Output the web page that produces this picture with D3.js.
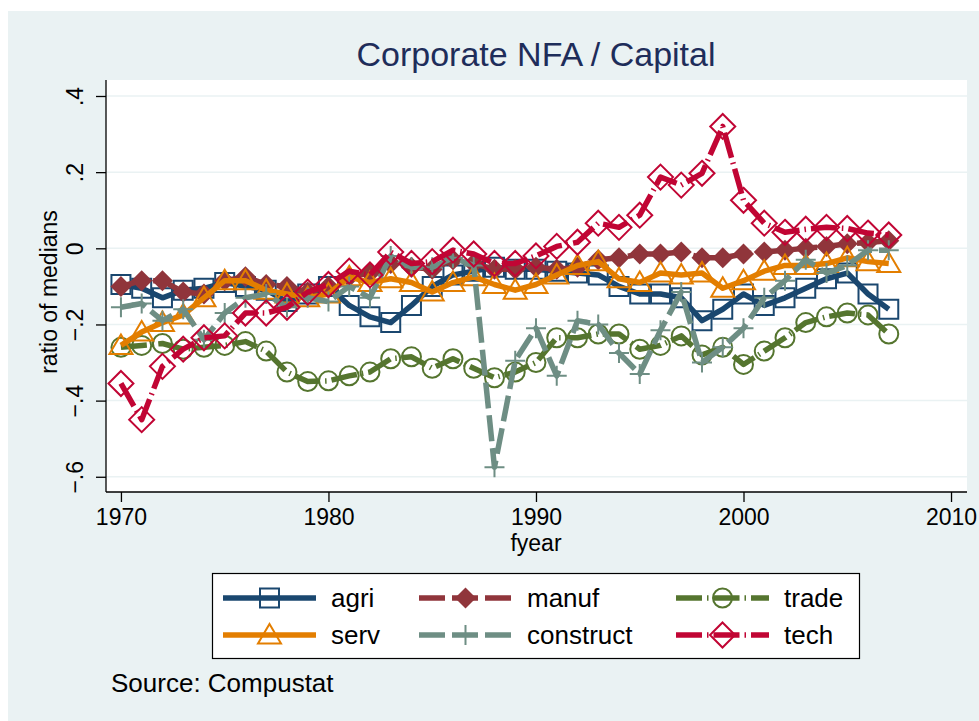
<!DOCTYPE html>
<html>
<head>
<meta charset="utf-8">
<script src="https://cdn.jsdelivr.net/npm/d3@7"></script>
<style>
  body { margin: 0; background: #ffffff; }
  svg { display: block; font-family: "Liberation Sans", Arial, sans-serif; }
</style>
</head>
<body>
<div id="chart"></div>
<script>
/* data */
const years = d3.range(1970, 2008);

const agri = [-0.095, -0.105, -0.13, -0.11, -0.105, -0.09, -0.1, -0.11, -0.14, -0.12,
  -0.10, -0.15, -0.18, -0.195, -0.15, -0.10, -0.07, -0.06, -0.05, -0.055,
  -0.055, -0.06, -0.065, -0.07, -0.10, -0.12, -0.12, -0.13, -0.19, -0.16,
  -0.12, -0.15, -0.13, -0.105, -0.08, -0.065, -0.12, -0.16];

const manuf = [-0.10, -0.085, -0.085, -0.115, -0.12, -0.085, -0.075, -0.095, -0.10, -0.115,
  -0.10, -0.075, -0.065, -0.04, -0.05, -0.055, -0.03, -0.04, -0.055, -0.055,
  -0.05, -0.055, -0.05, -0.03, -0.025, -0.015, -0.015, -0.01, -0.025, -0.025,
  -0.015, -0.01, -0.005, 0, 0.005, 0.012, 0.015, 0.02];

const serv = [-0.255, -0.22, -0.195, -0.175, -0.13, -0.085, -0.085, -0.11, -0.12, -0.13,
  -0.12, -0.075, -0.09, -0.08, -0.09, -0.115, -0.09, -0.075, -0.095, -0.11,
  -0.095, -0.07, -0.045, -0.035, -0.08, -0.09, -0.065, -0.07, -0.065, -0.105,
  -0.085, -0.06, -0.045, -0.045, -0.04, -0.025, -0.035, -0.04];

const construct = [-0.155, -0.145, -0.19, -0.16, -0.24, -0.17, -0.13, -0.12, -0.155, -0.13,
  -0.14, -0.10, -0.13, -0.02, -0.05, -0.05, -0.025, -0.045, -0.575, -0.295,
  -0.21, -0.335, -0.19, -0.2, -0.275, -0.33, -0.215, -0.115, -0.3, -0.26,
  -0.21, -0.13, -0.085, -0.03, -0.065, -0.045, -0.005, -0.005];

const trade = [-0.26, -0.255, -0.25, -0.265, -0.26, -0.255, -0.245, -0.27, -0.325, -0.35,
  -0.348, -0.335, -0.325, -0.29, -0.285, -0.315, -0.29, -0.315, -0.34, -0.325,
  -0.3, -0.235, -0.235, -0.225, -0.225, -0.265, -0.255, -0.23, -0.28, -0.26,
  -0.305, -0.27, -0.235, -0.195, -0.18, -0.17, -0.175, -0.225];

const tech = [-0.355, -0.45, -0.31, -0.265, -0.235, -0.23, -0.17, -0.17, -0.155, -0.115,
  -0.095, -0.06, -0.07, -0.01, -0.04, -0.035, -0.005, -0.015, -0.04, -0.04,
  -0.02, 0.005, 0.016, 0.066, 0.055, 0.087, 0.187, 0.166, 0.197, 0.32,
  0.126, 0.066, 0.042, 0.05, 0.055, 0.052, 0.04, 0.035];

const xTicks = [1970, 1980, 1990, 2000, 2010];
const yTicks = [-0.6, -0.4, -0.2, 0, 0.2, 0.4];

/* series in Stata plot order; legend is filled row-wise in 3 columns */
const series = [
  {name: 'agri', values: agri, color: '#1a476f', dash: null, marker: 'square'},
  {name: 'manuf', values: manuf, color: '#90353b', dash: '26,7', marker: 'diamondFill'},
  {name: 'trade', values: trade, color: '#55752f', dash: '26,5,1.5,5', marker: 'circle'},
  {name: 'serv', values: serv, color: '#e37e00', dash: null, marker: 'triangle'},
  {name: 'construct', values: construct, color: '#6e8e84', dash: '26,7', marker: 'plus'},
  {name: 'tech', values: tech, color: '#c10534', dash: '26,5,1.5,5', marker: 'diamond'}
];

const W = 979, H = 721;
const plot = {left: 106, right: 967, top: 80, bottom: 492};
const bg = '#eaf2f3';

const svg = d3.select('#chart').append('svg')
  .attr('width', W).attr('height', H);

svg.append('rect').attr('width', W).attr('height', H).attr('fill', '#ffffff');
svg.append('rect').attr('x', 8).attr('y', 11).attr('width', W - 8).attr('height', H - 11).attr('fill', bg);
svg.append('rect')
  .attr('x', plot.left).attr('y', plot.top)
  .attr('width', plot.right - plot.left).attr('height', plot.bottom - plot.top)
  .attr('fill', '#ffffff');

const x = d3.scaleLinear().domain([1969.28, 2010.77]).range([plot.left, plot.right]);
const y = d3.scaleLinear().domain([-0.640, 0.442]).range([plot.bottom, plot.top]);

// grid
svg.append('g').selectAll('line').data(yTicks).join('line')
  .attr('x1', plot.left).attr('x2', plot.right)
  .attr('y1', d => y(d)).attr('y2', d => y(d))
  .attr('stroke', bg).attr('stroke-width', 1.5);

// axes
const fmtY = d => d === 0 ? '0' : (d < 0 ? '\u2212' : '') + String(Math.abs(d)).replace(/^0/, '');

const yAxis = svg.append('g')
  .attr('transform', `translate(${plot.left},0)`)
  .call(d3.axisLeft(y).tickValues(yTicks).tickSize(10).tickFormat(fmtY));
yAxis.select('.domain').attr('d', `M0,${plot.top}V${plot.bottom}`).attr('stroke', '#000');
yAxis.selectAll('.tick line').attr('stroke', '#000');
yAxis.selectAll('.tick text')
  .attr('x', null).attr('dy', null)
  .attr('transform', 'translate(-23,0) rotate(-90)')
  .attr('text-anchor', 'middle')
  .attr('font-size', 23).attr('fill', '#000');

const xAxis = svg.append('g')
  .attr('transform', `translate(0,${plot.bottom})`)
  .call(d3.axisBottom(x).tickValues(xTicks).tickSize(10).tickFormat(d3.format('d')));
xAxis.select('.domain').attr('d', `M${plot.left},0H${plot.right}`).attr('stroke', '#000');
xAxis.selectAll('.tick line').attr('stroke', '#000');
xAxis.selectAll('.tick text')
  .attr('y', 33).attr('dy', null)
  .attr('font-size', 23).attr('fill', '#000');

svg.selectAll('.domain, .tick line').attr('stroke-width', 1.3);

// titles
svg.append('text')
  .attr('x', 536).attr('y', 66)
  .attr('text-anchor', 'middle')
  .attr('font-size', 34).attr('fill', '#1e2d5a')
  .text('Corporate NFA / Capital');

svg.append('text')
  .attr('x', 536).attr('y', 551)
  .attr('text-anchor', 'middle')
  .attr('font-size', 23).attr('fill', '#000')
  .text('fyear');

svg.append('text')
  .attr('transform', 'translate(57,292) rotate(-90)')
  .attr('text-anchor', 'middle')
  .attr('font-size', 23).attr('fill', '#000')
  .text('ratio of medians');

svg.append('text')
  .attr('x', 111).attr('y', 692)
  .attr('font-size', 26).attr('fill', '#000')
  .text('Source: Compustat');

// markers
function markerPath (type) {
  switch (type) {
    case 'square': return 'M-9.5,-9.5H9.5V9.5H-9.5Z';
    case 'diamond': return 'M0,-12.5L12.5,0L0,12.5L-12.5,0Z';
    case 'diamondFill': return 'M0,-10.5L10.5,0L0,10.5L-10.5,0Z';
    case 'triangle': return 'M0,-11L11.5,8.5H-11.5Z';
    case 'plus': return 'M-10,0H10M0,-10V10';
    case 'circle': return d3.symbol(d3.symbolCircle, Math.PI * 9.5 * 9.5)();
  }
}

function drawMarker (sel, s) {
  sel.attr('d', markerPath(s.marker))
    .attr('fill', s.marker === 'diamondFill' ? s.color : 'none')
    .attr('stroke', s.color)
    .attr('stroke-width', s.marker === 'diamondFill' ? 0 : 2);
}

const line = d3.line().x(d => x(d.year)).y(d => y(d.value));

series.forEach(s => {
  const pts = years.map((yr, i) => ({year: yr, value: s.values[i]}));
  const g = svg.append('g').attr('class', 'series');
  g.append('path')
    .datum(pts)
    .attr('d', line)
    .attr('fill', 'none')
    .attr('stroke', s.color)
    .attr('stroke-width', 5.5)
    .attr('stroke-linejoin', 'round')
    .attr('stroke-dasharray', s.dash);
  g.selectAll('.pt').data(pts).join('path')
    .attr('class', 'pt')
    .attr('transform', d => `translate(${x(d.year)},${y(d.value)})`)
    .call(drawMarker, s);
});

// legend
const legend = svg.append('g');
legend.append('rect')
  .attr('x', 212.5).attr('y', 573.5).attr('width', 647).attr('height', 85)
  .attr('fill', '#ffffff').attr('stroke', '#000').attr('stroke-width', 1.2);

const colX = [223, 419, 676];
const rowY = [598, 635];
series.forEach((s, i) => {
  const cx = colX[i % 3], cy = rowY[Math.floor(i / 3)];
  const item = legend.append('g');
  item.append('path')
    .attr('d', `M${cx},${cy}H${cx + 93}`)
    .attr('stroke', s.color)
    .attr('stroke-width', 5.5)
    .attr('stroke-dasharray', s.dash);
  item.append('path')
    .attr('transform', `translate(${cx + 46.5},${cy})`)
    .call(drawMarker, s);
  item.append('text')
    .attr('x', cx + 108).attr('y', cy + 9)
    .attr('font-size', 26).attr('fill', '#000')
    .text(s.name);
});
</script>
</body>
</html>
